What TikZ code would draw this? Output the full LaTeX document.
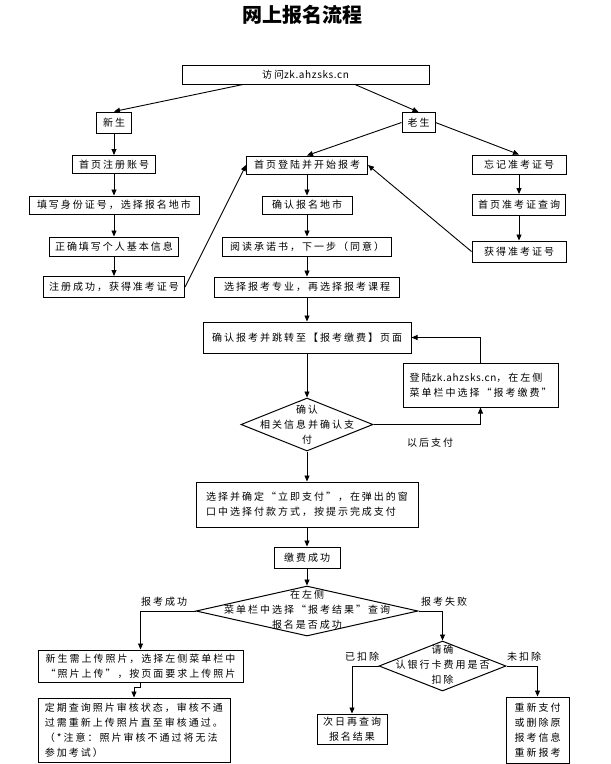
\documentclass[tikz,border=0pt]{standalone}
\usepackage{xcolor}
\usepackage{fontspec}
\usepackage{tikz}
\usetikzlibrary{arrows.meta,shapes.geometric}
\setmainfont{Noto Sans CJK SC}[LetterSpace=20]
\newfontfamily\titlefont{Noto Sans CJK SC}
\newfontfamily\latfont{Noto Sans CJK SC}[LetterSpace=6]
\newcommand{\site}{{\latfont zk.ahzsks.cn}}

\begin{document}
\begin{tikzpicture}[x=1pt,y=1pt,yscale=-1,xscale=1,
  font=\fontsize{10}{15}\selectfont,
  box/.style={draw, line width=1pt, inner sep=2pt, minimum height=19, align=center},
  dia/.style={draw, line width=1pt, shape=diamond, inner sep=0pt},
  dtxt/.style={inner sep=0pt, align=center},
  lbl/.style={inner sep=0.75pt},
  ttl/.style={inner sep=0pt, font=\titlefont\bfseries\fontsize{20}{24}\selectfont},
  arr/.style={line width=0.9pt, -{Triangle[length=6pt,width=5pt]}}]
\useasboundingbox (0,0) rectangle (611,764);

% Text Node
\draw (302,15) node [ttl] (title) {网上报名流程};
% Text Node
\draw (305.5,74.5) node [box, minimum width=247] (fw) {访问\site};
% Text Node
\draw (114,122.5) node [box, minimum width=35, minimum height=21] (xs) {新生};
% Text Node
\draw (418.5,122.5) node [box, minimum width=33, minimum height=20] (ls) {老生};
% Text Node
\draw (114,164.5) node [box, minimum width=83, minimum height=18] (zc) {首页注册账号};
% Text Node
\draw (307,165) node [box, minimum width=121, minimum height=18] (dl) {首页登陆并开始报考};
% Text Node
\draw (519,164.5) node [box, minimum width=94] (wj) {忘记准考证号};
% Text Node
\draw (114,205) node [box, minimum width=170, minimum height=18] (sf) {填写身份证号，选择报名地市};
% Text Node
\draw (307,205) node [box, minimum width=90, minimum height=18] (qr) {确认报名地市};
% Text Node
\draw (519,205) node [box, minimum width=93, minimum height=21] (cx) {首页准考证查询};
% Text Node
\draw (114,246.5) node [box, minimum width=129] (xx) {正确填写个人基本信息};
% Text Node
\draw (307,246.5) node [box, minimum width=169] (yd) {阅读承诺书，下一步（同意）};
% Text Node
\draw (519,251.5) node [box, minimum width=94, minimum height=21] (hd) {获得准考证号};
% Text Node
\draw (114,287) node [box, minimum width=141, minimum height=21] (cg) {注册成功，获得准考证号};
% Text Node
\draw (307,287) node [box, minimum width=185, minimum height=20] (kc) {选择报考专业，再选择报考课程};
% Text Node
\draw (307,337.5) node [box, minimum width=208, minimum height=31] (tz) {确认报考并跳转至【报考缴费】页面};
% Text Node
\draw (480.5,385) node [box, minimum width=155, minimum height=44, align=left] (dlb) {登陆\site，在左侧\\菜单栏中选择“报考缴费”};
% Decision
\draw (307,424.5) node [dia, minimum width=132, minimum height=53] (d1) {};
\draw (307,425) node [dtxt] (d1t) {确认\\相关信息并确认支\\付};
% Text Node
\draw (430,443) node [lbl] (yh) {以后支付};
% Text Node
\draw (307,504.5) node [box, minimum width=222, minimum height=45, align=left] (zf) {选择并确定“立即支付”，在弹出的窗\\口中选择付款方式，按提示完成支付};
% Text Node
\draw (307,557.5) node [box, minimum width=66, minimum height=21] (jf) {缴费成功};
% Decision
\draw (307,611) node [dia, minimum width=222, minimum height=50] (d2) {};
\draw (307,610) node [dtxt] (d2t) {在左侧\\菜单栏中选择“报考结果”查询\\报名是否成功};
% Text Node
\draw (164,602) node [lbl] (cgl) {报考成功};
% Text Node
\draw (444,602) node [lbl] (sbl) {报考失败};
% Text Node
\draw (140.5,666) node [box, minimum width=205, minimum height=32] (sc) {新生需上传照片，选择左侧菜单栏中\\“照片上传”，按页面要求上传照片};
% Text Node
\draw (134,730) node [box, minimum width=192, minimum height=64, align=left] (dq) {定期查询照片审核状态，审核不通\\过需重新上传照片直至审核通过。\\（*注意：照片审核不通过将无法\\参加考试）};
% Decision
\draw (442.5,666) node [dia, minimum width=127, minimum height=50] (d3) {};
\draw (442.5,665) node [dtxt] (d3t) {请确\\认银行卡费用是否\\扣除};
% Text Node
\draw (362,657) node [lbl] (ykl) {已扣除};
% Text Node
\draw (524,657) node [lbl] (wkl) {未扣除};
% Text Node
\draw (352,729) node [box, minimum width=70, minimum height=30] (cr) {次日再查询\\报名结果};
% Text Node
\draw (537.5,730) node [box, minimum width=63, minimum height=66] (cb) {重新支付\\或删除原\\报考信息\\重新报考};

%Straight Lines
\draw [arr] ([xshift=-62.5]fw.south) -- (xs.north);
\draw [arr] ([xshift=49.5]fw.south) -- (ls.north);
\draw [arr] (ls.west) -- (dl.north);
\draw [arr] (ls.east) -- (wj.north);
\draw [arr] (xs) -- (zc);
\draw [arr] (zc) -- (sf);
\draw [arr] (sf) -- (xx);
\draw [arr] (xx) -- (cg);
\draw [arr] (cg.east) -- (dl.west);
\draw [arr] (dl) -- (qr);
\draw [arr] (qr) -- (yd);
\draw [arr] (yd) -- (kc);
\draw [arr] (kc) -- (tz);
\draw [arr] (wj) -- (cx);
\draw [arr] (cx) -- (hd);
\draw [arr] (hd.west) -- (dl.east);
\draw [arr] (tz) -- (d1);
\draw [arr] (d1.east) -| (dlb.south);
\draw [arr] (dlb.north) |- (tz.east);
\draw [arr] (d1) -- (zf);
\draw [arr] (zf) -- (jf);
\draw [arr] (jf) -- (d2);
\draw [arr] (d2.west) -| (sc.north);
\draw [arr] (sc.south) -- ++(0,5) -| (dq.north);
\draw [arr] (d2.east) -| (d3.north);
\draw [arr] (d3.west) -| (cr.north);
\draw [arr] (d3.east) -| (cb.north);

\end{tikzpicture}
\end{document}
